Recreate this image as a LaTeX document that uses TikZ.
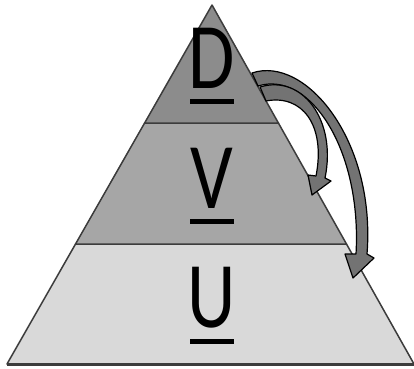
\documentclass[tikz,border=0pt]{standalone}
\usepackage{fontspec}
\usepackage{graphicx}
\usepackage{xcolor}
\usepackage{tikz}
\usetikzlibrary{calc}
\setmainfont{Carlito}

\definecolor{topgray}{RGB}{140,140,140}
\definecolor{midgray}{RGB}{166,166,166}
\definecolor{basegray}{RGB}{217,217,217}
\definecolor{edgegray}{RGB}{60,60,60}
\definecolor{arrowgray}{RGB}{115,115,115}

\newcommand\ulet[1]{\vtop{\offinterlineskip\hbox to 44pt{\hss\scalebox{0.8}[1]{#1}\hss}\kern11pt\hbox{\rule{44pt}{5pt}}}}

\begin{document}
\begin{tikzpicture}[
  x=1pt, y=-1pt,
  layer/.style={draw=edgegray, line width=1.5pt, line join=round},
  letter/.style={anchor=base, inner sep=0pt, font=\fontsize{94}{94}\selectfont},
  blockarrow/.style={fill=arrowgray, draw=black, line width=1.2pt, line join=round}
]
\useasboundingbox (0,0) rectangle (414,368);

\coordinate (apex) at (212,5);
\coordinate (bl) at (7,364);
\coordinate (br) at (414,364);

\draw[layer, fill=basegray] (bl) -- (br) -- ($(apex)!0.666!(br)$) -- ($(apex)!0.666!(bl)$) -- cycle;
\draw[layer, fill=midgray] ($(apex)!0.666!(bl)$) -- ($(apex)!0.666!(br)$) -- ($(apex)!0.329!(br)$) -- ($(apex)!0.329!(bl)$) -- cycle;
\draw[layer, fill=topgray] ($(apex)!0.329!(bl)$) -- ($(apex)!0.329!(br)$) -- (apex) -- cycle;
\draw[edgegray, line width=3pt] (bl) -- (br);

\node[letter] (dlet) at (212,88) {\ulet{D}};
\node[letter] (vlet) at (212,208) {\ulet{V}};
\node[letter] (ulet) at (212,327) {\ulet{U}};

\coordinate (vtip) at (312,195);
\coordinate (utip) at (353,278);

\draw[blockarrow] (252,73) .. controls (305,55) and (376,140) .. (367,254) -- (374,258) -- (utip) -- (345,254) -- (356,254) .. controls (362,150) and (310,70) .. (258,86) -- cycle;
\draw[blockarrow] (260,87) .. controls (302,74) and (337,120) .. (325,178) -- (331,181) -- (vtip) -- (308,175) -- (316,176) .. controls (326,125) and (302,94) .. (266,101) -- cycle;

\end{tikzpicture}
\end{document}
